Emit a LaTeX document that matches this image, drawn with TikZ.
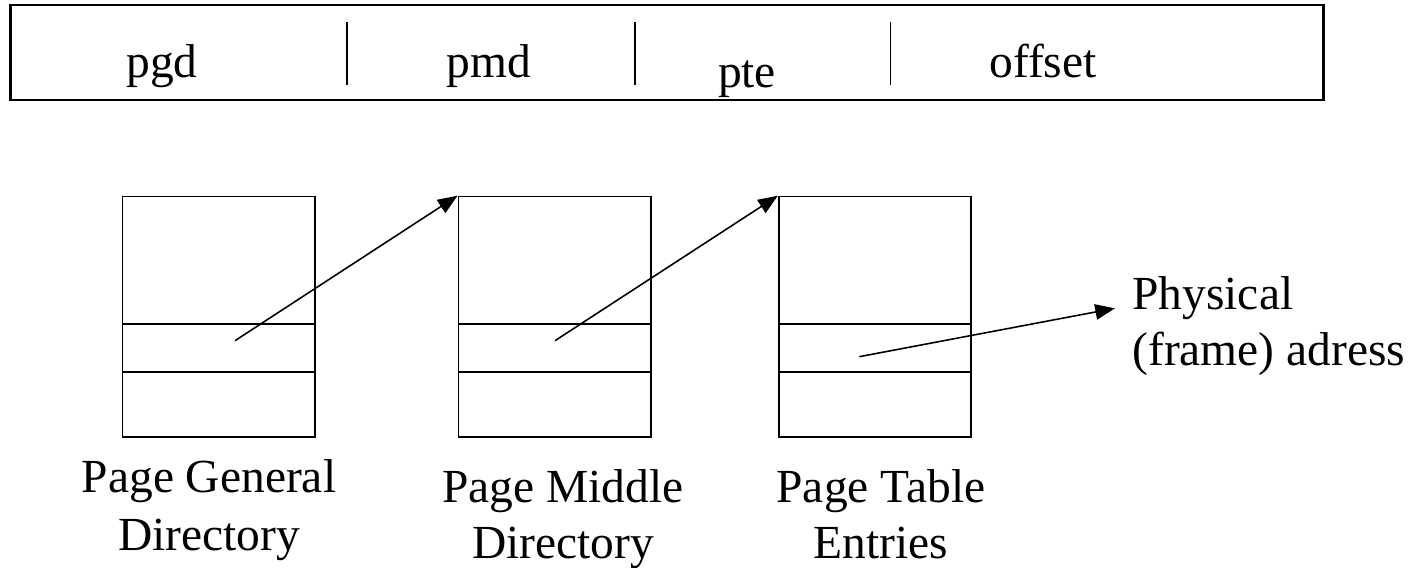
\documentclass[tikz,border=0pt]{standalone}
\usepackage{fontspec}
\setmainfont{Liberation Serif}
\usetikzlibrary{arrows.meta}
\begin{document}
\begin{tikzpicture}[x=0.01cm,y=-0.01cm,
  lbl/.style={font=\fontsize{13.5pt}{15.8pt}\selectfont, inner sep=0pt, anchor=base},
  tbl/.style={draw, line width=0.5pt, inner sep=0pt, minimum width=1.925cm, minimum height=2.4cm},
  bar/.style={draw, line width=0.7pt, inner sep=0pt, minimum width=13.12cm, minimum height=0.95cm},
  sep/.style={line width=0.5pt},
  ptr/.style={line width=0.45pt, -{Triangle[length=5.6pt,width=4.4pt]}}]
\useasboundingbox (0,0) rectangle (1418,568);
% address bar
\node[bar] (addr) at (667,52.5) {};
\coordinate (d1t) at (347,22); \coordinate (d1b) at (347,85);
\coordinate (d2t) at (635,22); \coordinate (d2b) at (635,85);
\coordinate (d3t) at (890.5,22); \coordinate (d3b) at (890.5,85);
\draw[sep] (d1t) -- (d1b);
\draw[sep] (d2t) -- (d2b);
\draw[sep] (d3t) -- (d3b);
\node[lbl] (pgd) at (162,78) {pgd};
\node[lbl] (pmd) at (489,78) {pmd};
\node[lbl] (pte) at (747,88) {pte};
\node[lbl] (off) at (1043,78) {offset};
% tables
\node[tbl] (box1) at (218.9,316.7) {};
\node[tbl] (box2) at (554.7,316.7) {};
\node[tbl] (box3) at (875,316.7) {};
\foreach \b in {box1,box2,box3}{
  \draw[sep] (\b.north west) ++(0,128.3) -- ++(192.5,0);
  \draw[sep] (\b.north west) ++(0,176) -- ++(192.5,0);
}
% pointers
\coordinate (s1) at (235,340.7);
\coordinate (s2) at (555,340.7);
\coordinate (s3) at (859.3,356.7);
\coordinate (phys) at (1115,308.3);
\draw[ptr] (s1) -- (box2.north west);
\draw[ptr] (s2) -- (box3.north west);
\draw[ptr] (s3) -- (phys);
% labels
\node[lbl, anchor=base west] (physlbl) at (1131.7,310) {\begin{tabular}[t]{@{}l@{}}Physical\\(frame) adress\end{tabular}};
\node[lbl] (l1) at (209,493) {\renewcommand\arraystretch{1.03}\begin{tabular}[t]{@{}c@{}}Page General\\Directory\end{tabular}};
\node[lbl] (l2) at (563,503) {\begin{tabular}[t]{@{}c@{}}Page Middle\\Directory\end{tabular}};
\node[lbl] (l3) at (881,503) {\begin{tabular}[t]{@{}c@{}}Page Table\\Entries\end{tabular}};
\end{tikzpicture}
\end{document}
